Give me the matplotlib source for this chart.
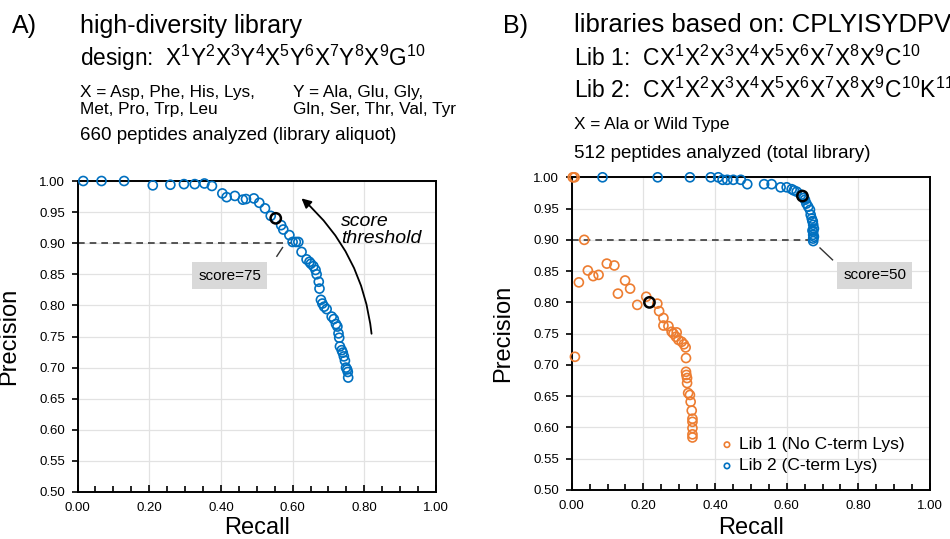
import matplotlib
matplotlib.use('Agg')
import matplotlib.pyplot as plt
from matplotlib.patches import FancyArrowPatch
from matplotlib.ticker import MultipleLocator, FormatStrFormatter

plt.rcParams['font.family'] = 'Liberation Sans'
plt.rcParams['mathtext.fontset'] = 'custom'
plt.rcParams['mathtext.rm'] = 'Liberation Sans'
plt.rcParams['mathtext.it'] = 'Liberation Sans:italic'

# ---- data ----
# panel A: high-diversity library
recall_a = [0.016, 0.067, 0.130, 0.210, 0.259, 0.297, 0.327, 0.354, 0.375, 0.404,
            0.416, 0.439, 0.461, 0.470, 0.492, 0.507, 0.523, 0.539, 0.568, 0.574,
            0.591, 0.600, 0.609, 0.616, 0.625, 0.639, 0.647, 0.651, 0.658, 0.664,
            0.667, 0.673, 0.675, 0.679, 0.683, 0.688, 0.695, 0.709, 0.715, 0.721,
            0.725, 0.728, 0.730, 0.732, 0.737, 0.740, 0.743, 0.746, 0.749, 0.752,
            0.754, 0.755]
precision_a = [1.0, 1.0, 1.0, 0.993, 0.994, 0.995, 0.995, 0.996, 0.992, 0.980,
               0.974, 0.976, 0.970, 0.971, 0.972, 0.965, 0.956, 0.944, 0.929, 0.922,
               0.913, 0.902, 0.902, 0.902, 0.886, 0.874, 0.870, 0.867, 0.863, 0.857,
               0.850, 0.838, 0.827, 0.809, 0.803, 0.798, 0.794, 0.782, 0.778, 0.770,
               0.766, 0.755, 0.748, 0.734, 0.728, 0.724, 0.718, 0.711, 0.700, 0.697,
               0.693, 0.684]
highlight_a = [0.553, 0.940]   # score = 75 point

# panel B: Lib 1 (no C-term Lys)
recall_lib1 = [0.003, 0.008, 0.009, 0.020, 0.035, 0.045, 0.060, 0.075, 0.098, 0.119,
               0.129, 0.149, 0.163, 0.183, 0.208, 0.239, 0.244, 0.256, 0.256, 0.270,
               0.279, 0.284, 0.293, 0.291, 0.298, 0.307, 0.313, 0.318, 0.319, 0.319,
               0.320, 0.322, 0.322, 0.325, 0.330, 0.332, 0.335, 0.337, 0.337, 0.337,
               0.337, 0.337]
precision_lib1 = [1.0, 1.0, 0.713, 0.832, 0.900, 0.851, 0.842, 0.844, 0.862, 0.859,
                  0.814, 0.835, 0.822, 0.796, 0.809, 0.798, 0.786, 0.775, 0.763, 0.762,
                  0.753, 0.750, 0.752, 0.745, 0.740, 0.737, 0.733, 0.728, 0.711, 0.689,
                  0.684, 0.679, 0.671, 0.655, 0.652, 0.641, 0.627, 0.614, 0.609, 0.599,
                  0.589, 0.584]
highlight_lib1 = [0.217, 0.800]

# panel B: Lib 2 (C-term Lys)
recall_lib2 = [0.086, 0.240, 0.330, 0.388, 0.409, 0.421, 0.434, 0.451, 0.472, 0.490,
               0.537, 0.558, 0.583, 0.600, 0.614, 0.620, 0.628, 0.640, 0.648, 0.651,
               0.655, 0.660, 0.665, 0.667, 0.670, 0.672, 0.673, 0.674, 0.676, 0.674,
               0.672, 0.674, 0.676, 0.674, 0.674]
precision_lib2 = [1.0, 1.0, 1.0, 1.0, 1.0, 0.996, 0.996, 0.996, 0.996, 0.989,
                  0.989, 0.989, 0.984, 0.984, 0.981, 0.979, 0.977, 0.972, 0.967, 0.964,
                  0.958, 0.953, 0.948, 0.940, 0.934, 0.930, 0.929, 0.924, 0.918, 0.913,
                  0.915, 0.908, 0.905, 0.902, 0.898]
highlight_lib2 = [0.644, 0.970]

BLUE = '#0070C0'
ORANGE = '#ED7D31'
W, H = 950, 539

fig = plt.figure(figsize=(9.5, 5.39), dpi=100)
ax_a = fig.add_axes([77.5 / W, 47 / H, 358.5 / W, 311 / H])
ax_b = fig.add_axes([571.7 / W, 49 / H, 358.3 / W, 312.7 / H])


def ftext(x, y, s, **kw):
    # x from left, y = baseline from top, in pixels
    fig.text(x / W, 1 - y / H, s, va='baseline', **kw)


def style(ax, xlab_y):
    ax.set_xlim(0, 1)
    ax.set_ylim(0.5, 1.0)
    ax.xaxis.set_major_locator(MultipleLocator(0.2))
    ax.xaxis.set_minor_locator(MultipleLocator(0.05))
    ax.yaxis.set_major_locator(MultipleLocator(0.05))
    ax.xaxis.set_major_formatter(FormatStrFormatter('%.2f'))
    ax.yaxis.set_major_formatter(FormatStrFormatter('%.2f'))
    ax.grid(True, which='major', color='#e2e2e2', lw=0.9)
    ax.set_axisbelow(True)
    ax.tick_params(axis='x', which='both', direction='in', labelsize=9.5, pad=7)
    ax.tick_params(axis='x', which='major', length=5, width=1.2)
    ax.tick_params(axis='x', which='minor', length=4, width=1.2)
    ax.tick_params(axis='y', direction='out', length=4, width=1.2, labelsize=9.5, pad=5)
    for sp in ax.spines.values():
        sp.set_linewidth(1.4)
    ax.set_xlabel('Recall', fontsize=17, va='top')
    ax.set_ylabel('Precision', fontsize=17)
    ax.xaxis.set_label_coords(0.5, xlab_y)
    ax.yaxis.set_label_coords(-0.16, 0.5)


# ---- panel A ----
style(ax_a, -0.08)
ax_a.plot([0, 0.595], [0.9, 0.9], ls=(0, (4, 3)), color='#3a3a3a', lw=1.2, zorder=2)
ax_a.scatter(recall_a, precision_a, s=42, facecolors='none', edgecolors=BLUE,
             linewidths=1.2, clip_on=False, zorder=3)
ax_a.scatter([highlight_a[0]], [highlight_a[1]], s=55, facecolors='none',
             edgecolors='black', linewidths=1.8, zorder=4)
ax_a.plot([0.556, 0.572], [0.879, 0.893], color='#333333', lw=1)
ax_a.text(0.425, 0.848, 'score=75', ha='center', va='center', fontsize=11,
          bbox=dict(boxstyle='square,pad=0.4', fc='#d9d9d9', ec='none'))
ax_a.add_patch(FancyArrowPatch((0.821, 0.750), (0.619, 0.975),
                               connectionstyle='arc3,rad=0.2', arrowstyle='-|>',
                               mutation_scale=14, lw=1.3, color='black'))
ax_a.text(0.734, 0.921, 'score\nthreshold', fontsize=14, style='italic',
          va='center', ha='left', linespacing=1.05)

# ---- panel B ----
style(ax_b, -0.087)
ax_b.plot([0, 0.665], [0.9, 0.9], ls=(0, (4, 3)), color='#3a3a3a', lw=1.2, zorder=2)
ax_b.scatter(recall_lib1, precision_lib1, s=42, facecolors='none', edgecolors=ORANGE,
             linewidths=1.2, clip_on=False, zorder=3, label='Lib 1 (No C-term Lys)')
ax_b.scatter(recall_lib2, precision_lib2, s=42, facecolors='none', edgecolors=BLUE,
             linewidths=1.2, clip_on=False, zorder=3, label='Lib 2 (C-term Lys)')
ax_b.scatter([highlight_lib1[0], highlight_lib2[0]], [highlight_lib1[1], highlight_lib2[1]],
             s=55, facecolors='none', edgecolors='black', linewidths=1.8, zorder=4)
ax_b.plot([0.693, 0.728], [0.887, 0.868], color='#333333', lw=1)
ax_b.text(0.846, 0.843, 'score=50', ha='center', va='center', fontsize=11,
          bbox=dict(boxstyle='square,pad=0.4', fc='#d9d9d9', ec='none'))
ax_b.legend(loc='center left', bbox_to_anchor=(0.414, 0.111), frameon=False,
            fontsize=12.5, handlelength=0.8, handletextpad=0.3, borderpad=0,
            borderaxespad=0, labelspacing=0.35, markerscale=0.6)

# ---- header text ----
ftext(12, 33, 'A)', fontsize=18)
ftext(80, 33, 'high-diversity library', fontsize=18)
ftext(80, 66, r'design:  $\mathregular{X^{1}Y^{2}X^{3}Y^{4}X^{5}Y^{6}X^{7}Y^{8}X^{9}G^{10}}$',
      fontsize=16.3)
ftext(80, 97, 'X = Asp, Phe, His, Lys,', fontsize=12.4)
ftext(293, 97, 'Y = Ala, Glu, Gly,', fontsize=12.4)
ftext(80, 114, 'Met, Pro, Trp, Leu', fontsize=12.4)
ftext(293, 114, 'Gln, Ser, Thr, Val, Tyr', fontsize=12.4)
ftext(80, 140, '660 peptides analyzed (library aliquot)', fontsize=13.5)

ftext(503, 33, 'B)', fontsize=18)
ftext(574, 32, 'libraries based on: CPLYISYDPV', fontsize=18.5)
ftext(574, 66, r'Lib 1:  $\mathregular{CX^{1}X^{2}X^{3}X^{4}X^{5}X^{6}X^{7}X^{8}X^{9}C^{10}}$',
      fontsize=16.5)
ftext(574, 98, r'Lib 2:  $\mathregular{CX^{1}X^{2}X^{3}X^{4}X^{5}X^{6}X^{7}X^{8}X^{9}C^{10}K^{11}}$',
      fontsize=16.5)
ftext(574, 129, 'X = Ala or Wild Type', fontsize=12.4)
ftext(574, 158, '512 peptides analyzed (total library)', fontsize=13.5)

fig.savefig('out.png', dpi=100)
